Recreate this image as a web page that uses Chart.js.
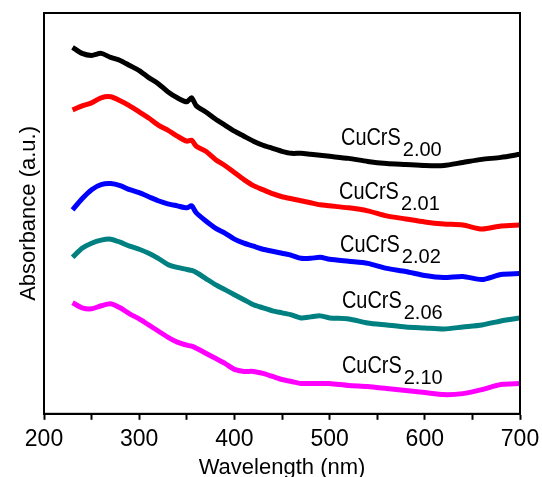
<!DOCTYPE html>
<html>
<head>
<meta charset="utf-8">
<script src="https://cdn.jsdelivr.net/npm/chart.js@4/dist/chart.umd.min.js"></script>
<style>
  html, body { margin: 0; padding: 0; background: #fff; }
  canvas { display: block; }
</style>
</head>
<body>
<canvas id="c" width="542" height="477"></canvas>
<script>
// UV-vis absorbance spectra of CuCrS(2+x) samples (curves offset vertically, a.u.)
const wavelength = [230, 240, 250, 260, 270, 280, 290, 300, 310, 320, 330, 340, 350, 355, 360,
  370, 380, 390, 400, 410, 420, 430, 440, 450, 460, 470, 480, 490, 500,
  520, 540, 560, 580, 600, 620, 640, 660, 680, 700];

const abs200 = [363, 357, 355, 357, 353, 350, 345, 340, 333, 327, 319, 313, 309, 313, 305,
  299, 292, 286, 280, 275, 270, 266, 263, 260, 258, 258, 257, 256, 255,
  253, 250, 248, 247, 246, 246, 249, 252, 254, 257];

const abs201 = [301, 305, 308, 313, 314, 310, 305, 299, 293, 286, 281, 275, 270, 271, 265,
  260, 252, 246, 239, 232, 226, 222, 218, 215, 213, 211, 209, 207, 206,
  204, 201, 196, 193, 190, 188, 187, 183, 186, 187];

const abs202 = [202, 213, 222, 227, 228, 226, 222, 219, 215, 211, 208, 206, 204, 206, 199,
  191, 184, 179, 173, 169, 166, 163, 161, 159, 157, 154, 154, 155, 153,
  151, 149, 144, 141, 137, 135, 136, 133, 138, 139];

const abs206 = [155, 164, 169, 172, 173, 170, 166, 163, 159, 154, 148, 145, 143, 142, 140,
  134, 128, 123, 118, 113, 108, 105, 102, 100, 98, 95, 96, 97, 95,
  94, 90, 88, 86, 85, 84, 86, 88, 92, 95];

const abs210 = [110, 105, 104, 107, 109, 105, 99, 94, 88, 82, 76, 71, 68, 67, 65,
  60, 55, 50, 44, 42, 42, 40, 37, 34, 32, 30, 30, 30, 30,
  28, 27, 25, 23, 21, 19, 20, 24, 29, 30];

const formulaBase = 'CuCrS';
const stoichiometry = ['2.00', '2.01', '2.02', '2.06', '2.10'];
const seriesValues = [abs200, abs201, abs202, abs206, abs210];
const seriesColors = ['#000000', '#ff0000', '#0000ff', '#008080', '#ff00ff'];

// where each curve's formula label sits (wavelength, absorbance of the text baseline)
const labelWavelength = [512, 510, 511, 513, 513];
const labelAbsorbance = [266, 213, 160, 105, 40];

const xTicks = [200, 300, 400, 500, 600, 700];

const FONT = '"Liberation Sans", Arial, Helvetica, sans-serif';

const datasets = seriesValues.map((vals, i) => ({
  label: formulaBase + stoichiometry[i],
  data: wavelength.map((w, k) => ({ x: w, y: vals[k] })),
  borderColor: seriesColors[i],
  backgroundColor: seriesColors[i],
  borderWidth: 5,
  pointRadius: 0,
  tension: 0.25,
  fill: false
}));

const frameAndLabels = {
  id: 'frameAndLabels',
  afterDatasetsDraw(chart) {
    const { ctx, chartArea: a, scales: { x, y } } = chart;
    ctx.save();
    ctx.strokeStyle = '#000';
    ctx.lineWidth = 2;
    ctx.strokeRect(a.left, a.top, a.right - a.left, a.bottom - a.top);

    ctx.fillStyle = '#000';
    ctx.textBaseline = 'alphabetic';
    ctx.textAlign = 'left';
    stoichiometry.forEach((sub, i) => {
      const px = x.getPixelForValue(labelWavelength[i]);
      const py = y.getPixelForValue(labelAbsorbance[i]);
      // formula text is set slightly condensed
      ctx.save();
      ctx.translate(px, py);
      ctx.scale(0.83, 1);
      ctx.font = '24px ' + FONT;
      ctx.fillText(formulaBase, 0, 0);
      const w = ctx.measureText(formulaBase).width * 0.83;
      ctx.restore();
      ctx.font = '20px ' + FONT;
      ctx.fillText(sub, px + w + 2, py + 11);
    });
    ctx.restore();
  }
};

new Chart(document.getElementById('c'), {
  type: 'line',
  data: { datasets },
  options: {
    responsive: false,
    animation: false,
    events: [],
    layout: { padding: { left: 18, right: 22, top: 13, bottom: 0 } },
    plugins: {
      legend: { display: false },
      tooltip: { enabled: false }
    },
    scales: {
      x: {
        type: 'linear',
        min: 200,
        max: 700,
        afterBuildTicks(scale) {
          const t = [];
          for (let v = 200; v <= 700; v += 50) t.push({ value: v });
          scale.ticks = t;
        },
        afterFit(scale) {
          // let the last tick label overhang into the right margin
          scale.paddingRight = 0;
          scale.paddingLeft = 0;
        },
        ticks: {
          autoSkip: false,
          maxRotation: 0,
          padding: 6,
          color: '#000',
          font: { family: FONT, size: 23 },
          callback: (v) => (xTicks.includes(v) ? String(v) : '')
        },
        grid: {
          display: true,
          drawOnChartArea: false,
          drawTicks: true,
          tickLength: 6,
          tickWidth: 2,
          tickColor: '#000'
        },
        border: { display: true, color: '#000', width: 2 },
        title: {
          display: true,
          text: 'Wavelength (nm)',
          color: '#000',
          font: { family: FONT, size: 22, lineHeight: 0.8 },
          padding: { top: 0, bottom: 0 }
        }
      },
      y: {
        type: 'linear',
        min: 0,
        max: 397,
        ticks: { display: false },
        grid: { display: false, drawTicks: false },
        border: { display: true, color: '#000', width: 2 },
        title: {
          display: true,
          text: 'Absorbance (a.u.)',
          color: '#000',
          font: { family: FONT, size: 22, lineHeight: 1 },
          padding: { top: 0, bottom: 4 }
        }
      }
    }
  },
  plugins: [frameAndLabels]
});
</script>
</body>
</html>
